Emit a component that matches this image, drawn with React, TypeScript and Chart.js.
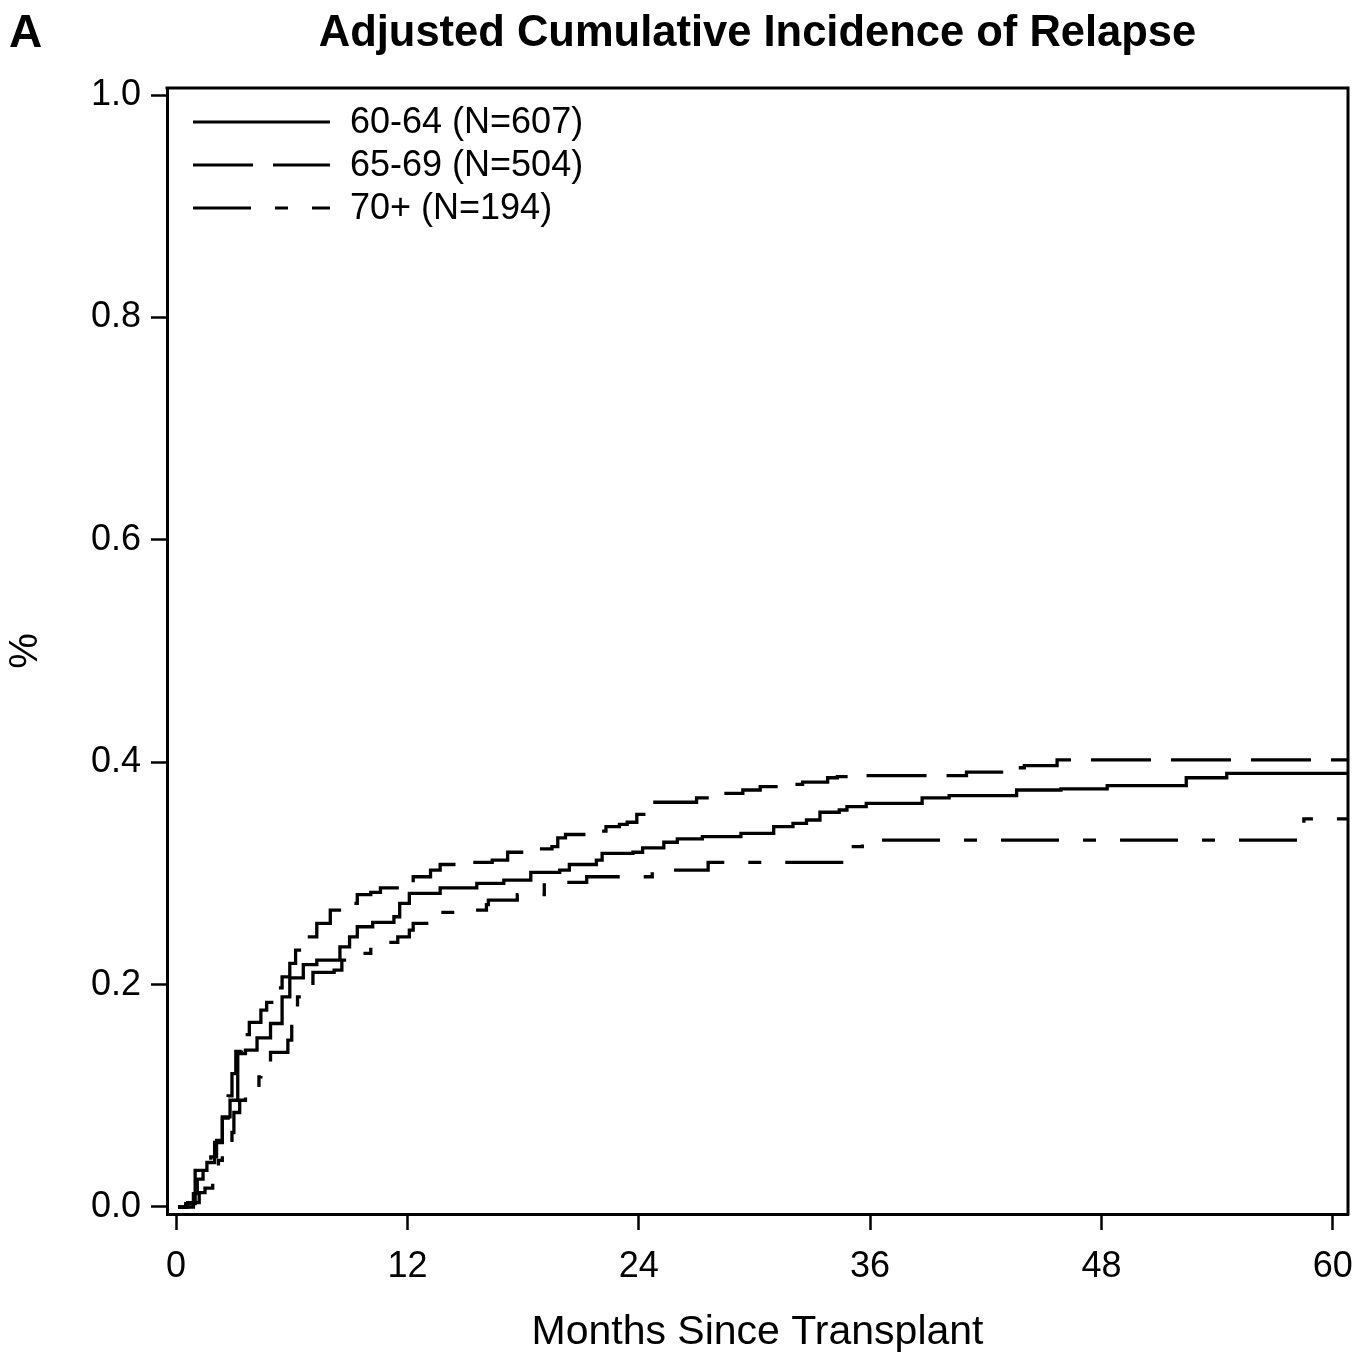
import React, { useEffect, useRef } from "react";
import { Chart, registerables } from "chart.js";

Chart.register(...registerables);

// ---------- data ----------
const chartTitle = "Adjusted Cumulative Incidence of Relapse";
const panelLabel = "A";
const xAxisTitle = "Months Since Transplant";
const yAxisTitle = "%";
const seriesLabels = ["60-64 (N=607)", "65-69 (N=504)", "70+ (N=194)"];

const xTicks = [0, 12, 24, 36, 48, 60];
const yTicks = [0, 0.2, 0.4, 0.6, 0.8, 1.0];

// 60-64 (solid)
const months6064 = [0.1, 0.5, 0.99, 1.6, 2.0, 2.4, 2.8, 3.2, 3.6, 4.2, 4.9, 5.5, 5.9, 6.6, 7.3, 8.5, 9.0, 9.4, 10.2, 11.3, 11.6, 12.1, 13.7, 15.6, 17.0, 18.4, 19.9, 20.4, 21.8, 22.1, 23.7, 24.2, 25.3, 26.0, 27.3, 29.3, 31.0, 32.0, 32.7, 33.4, 34.4, 34.8, 35.8, 38.7, 40.1, 43.6, 45.9, 48.3, 52.4, 54.5, 60.8];
const cif6064 = [0.0, 0.003, 0.033, 0.040, 0.058, 0.081, 0.096, 0.138, 0.141, 0.152, 0.165, 0.189, 0.206, 0.218, 0.222, 0.234, 0.243, 0.252, 0.256, 0.261, 0.273, 0.282, 0.287, 0.291, 0.294, 0.301, 0.303, 0.308, 0.312, 0.318, 0.319, 0.323, 0.328, 0.331, 0.333, 0.336, 0.342, 0.345, 0.348, 0.355, 0.357, 0.360, 0.363, 0.368, 0.370, 0.375, 0.376, 0.379, 0.386, 0.390, 0.390];

// 65-69 (long dash)
const months6569 = [0.1, 0.6, 0.9, 1.1, 1.4, 1.8, 2.1, 2.4, 2.7, 2.9, 3.1, 3.4, 3.8, 4.4, 4.7, 5.1, 5.5, 5.9, 6.2, 6.7, 7.3, 8.0, 9.1, 9.4, 10.1, 10.6, 12.0, 12.3, 13.2, 13.7, 15.0, 16.4, 17.2, 18.5, 19.5, 19.8, 20.2, 21.6, 22.3, 23.0, 23.4, 23.9, 24.4, 24.7, 27.0, 28.4, 29.4, 30.3, 31.5, 32.5, 33.8, 34.3, 35.3, 41.0, 43.1, 44.0, 45.7, 60.8];
const cif6569 = [0.0, 0.004, 0.012, 0.025, 0.032, 0.045, 0.060, 0.080, 0.100, 0.120, 0.140, 0.155, 0.166, 0.177, 0.184, 0.197, 0.207, 0.219, 0.231, 0.243, 0.255, 0.267, 0.273, 0.281, 0.283, 0.287, 0.292, 0.297, 0.303, 0.308, 0.310, 0.312, 0.319, 0.322, 0.324, 0.332, 0.335, 0.338, 0.342, 0.344, 0.346, 0.353, 0.363, 0.364, 0.368, 0.372, 0.375, 0.378, 0.380, 0.382, 0.386, 0.387, 0.388, 0.391, 0.395, 0.397, 0.402, 0.402];

// 70+ (dash-dot)
const months70 = [0.1, 0.9, 1.2, 1.5, 1.9, 2.2, 2.4, 2.9, 3.0, 3.3, 3.6, 4.3, 4.4, 4.9, 5.8, 6.0, 6.3, 6.8, 7.1, 8.2, 8.6, 9.0, 10.1, 10.4, 11.5, 12.1, 12.3, 13.0, 13.2, 15.0, 16.1, 16.2, 17.7, 19.1, 21.3, 24.7, 27.6, 34.7, 35.0, 35.6, 58.5, 60.8];
const cif70 = [0.0, 0.004, 0.013, 0.017, 0.024, 0.042, 0.051, 0.067, 0.085, 0.096, 0.103, 0.117, 0.125, 0.139, 0.150, 0.173, 0.189, 0.192, 0.211, 0.213, 0.222, 0.228, 0.234, 0.238, 0.243, 0.249, 0.255, 0.260, 0.265, 0.267, 0.272, 0.276, 0.281, 0.292, 0.297, 0.303, 0.310, 0.318, 0.324, 0.330, 0.349, 0.349];

const seriesMonths = [months6064, months6569, months70];
const seriesCif = [cif6064, cif6569, cif70];
const seriesDash: number[][] = [[], [60, 20], [58, 24, 13, 24]];

const FONT = '"Liberation Sans", Arial, Helvetica, sans-serif';

const decorPlugin = {
  id: "decor",
  afterDraw(chart: any) {
    const { ctx, chartArea: ca } = chart;
    ctx.save();
    ctx.strokeStyle = "#000";
    ctx.fillStyle = "#000";
    ctx.lineWidth = 3;
    ctx.setLineDash([]);
    ctx.beginPath();
    ctx.moveTo(ca.left - 1.5, ca.top);
    ctx.lineTo(ca.right, ca.top);
    ctx.lineTo(ca.right, ca.bottom + 1.5);
    ctx.stroke();

    // title
    ctx.font = `bold 43.5px ${FONT}`;
    ctx.textAlign = "center";
    ctx.textBaseline = "alphabetic";
    ctx.fillText(chartTitle, (ca.left + ca.right) / 2, 46);
    ctx.textAlign = "left";
    ctx.font = `bold 46px ${FONT}`;
    ctx.fillText(panelLabel, 9, 47);

    // legend
    ctx.font = `36px ${FONT}`;
    ctx.textBaseline = "middle";
    chart.data.datasets.forEach((ds: any, i: number) => {
      const y = ca.top + 34 + i * 43;
      ctx.setLineDash(ds.borderDash || []);
      ctx.lineWidth = 3;
      ctx.beginPath();
      ctx.moveTo(ca.left + 26, y);
      ctx.lineTo(ca.left + 163, y);
      ctx.stroke();
      ctx.setLineDash([]);
      ctx.fillText(ds.label, ca.left + 183, y + 1);
    });
    ctx.restore();
  },
};

export default function App() {
  const ref = useRef<HTMLCanvasElement | null>(null);

  useEffect(() => {
    if (!ref.current) return;
    const datasets = seriesLabels.map((label, i) => ({
      label,
      data: seriesMonths[i].map((m, j) => ({ x: m, y: seriesCif[i][j] })),
      borderColor: "#000",
      borderWidth: 3.3,
      borderDash: seriesDash[i],
      pointRadius: 0,
      fill: false,
      stepped: true as const,
      tension: 0,
    }));

    const chart = new Chart(ref.current, {
      type: "line",
      data: { datasets },
      options: {
        responsive: false,
        animation: false,
        layout: { padding: { top: 88, right: 24, left: 0, bottom: 0 } },
        plugins: {
          legend: { display: false },
          title: { display: false },
          tooltip: { enabled: false },
        },
        scales: {
          x: {
            type: "linear",
            min: -0.47,
            max: 60.79,
            afterBuildTicks: (scale: any) => {
              scale.ticks = xTicks.map((v) => ({ value: v }));
            },
            afterFit: (scale: any) => {
              scale.height = 147;
            },
            grid: {
              display: true,
              drawOnChartArea: false,
              drawTicks: true,
              tickLength: 16,
              tickWidth: 2.5,
              color: "#000",
            },
            border: { display: true, color: "#000", width: 3 },
            ticks: {
              color: "#000",
              font: { family: FONT, size: 36 },
              padding: 15,
              maxRotation: 0,
              autoSkip: false,
              callback: (v: any) => String(v),
            },
            title: {
              display: true,
              text: xAxisTitle,
              color: "#000",
              font: { family: FONT, size: 41 },
              padding: { top: 0, bottom: 4 },
            },
          },
          y: {
            type: "linear",
            min: -0.0063,
            max: 1.0063,
            afterBuildTicks: (scale: any) => {
              scale.ticks = yTicks.map((v) => ({ value: v }));
            },
            afterFit: (scale: any) => {
              scale.width = 167;
            },
            grid: {
              display: true,
              drawOnChartArea: false,
              drawTicks: true,
              tickLength: 16,
              tickWidth: 2.5,
              color: "#000",
            },
            border: { display: true, color: "#000", width: 3 },
            ticks: {
              color: "#000",
              font: { family: FONT, size: 36 },
              padding: 10,
              autoSkip: false,
              callback: (v: any) => Number(v).toFixed(1),
            },
            title: {
              display: true,
              text: yAxisTitle,
              color: "#000",
              font: { family: FONT, size: 40 },
              padding: { top: 2, bottom: 0 },
            },
          },
        },
      },
      plugins: [decorPlugin],
    });
    return () => chart.destroy();
  }, []);

  return (
    <div style={{ position: "absolute", left: 0, top: 0, width: 1372, height: 1361, background: "#fff" }}>
      <canvas ref={ref} width={1372} height={1361} style={{ display: "block" }} />
    </div>
  );
}
